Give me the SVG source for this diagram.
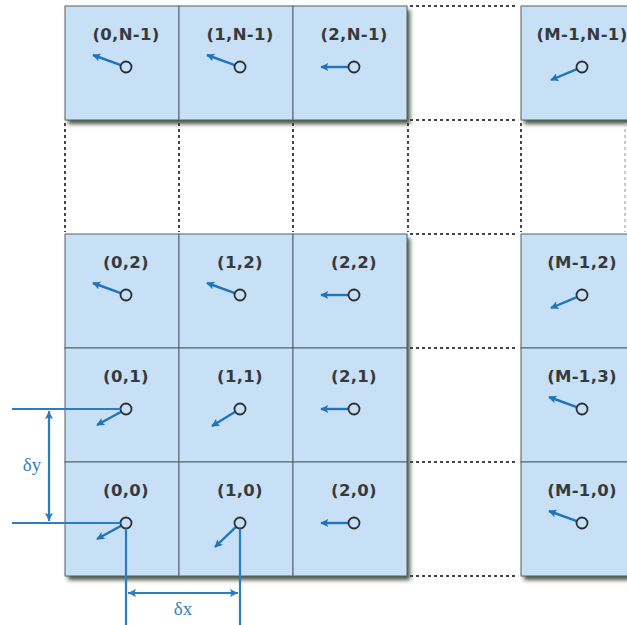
<svg xmlns="http://www.w3.org/2000/svg" width="627" height="625" viewBox="0 0 627 625">
<defs>
<filter id="sh" x="-10%" y="-10%" width="130%" height="130%">
<feDropShadow dx="3" dy="4" stdDeviation="2.2" flood-color="#36402c" flood-opacity="0.9"/>
</filter>
<marker id="ah" viewBox="0 0 10 10" refX="9" refY="5" markerUnits="userSpaceOnUse" markerWidth="11" markerHeight="8" orient="auto">
<path d="M0,0 L10,5 L0,10 L2,5 z" fill="#1f74bb"/>
</marker>
<marker id="dh" viewBox="0 0 10 10" refX="10" refY="5" markerUnits="userSpaceOnUse" markerWidth="11" markerHeight="8" orient="auto-start-reverse">
<path d="M0,0 L10,5 L0,10 L2,5 z" fill="#2a7dc4"/>
</marker>
</defs>
<style>
.cell{fill:#c7e0f5;stroke:#55616b;stroke-width:1}
.lbl{font-family:"DejaVu Sans","Liberation Sans",sans-serif;font-weight:bold;font-size:16.5px;fill:#363a3e;text-anchor:middle;letter-spacing:0.3px}
.pt{fill:none;stroke:#2a2f33;stroke-width:1.8}
.vec{stroke:#1f74bb;stroke-width:2.4;marker-end:url(#ah)}
.dot{stroke:#444;stroke-width:2;stroke-dasharray:3 3;fill:none}
.dim{stroke:#2a7dc4;stroke-width:2.2;fill:none}
.dimt{font-family:"Liberation Serif","DejaVu Serif",serif;font-size:19px;fill:#3a80c0;text-anchor:middle}
</style>
<rect width="627" height="625" fill="#fff"/>
<g id="shadows" filter="url(#sh)">
<rect x="65" y="6" width="342" height="114" fill="#c7e0f5"/>
<rect x="521" y="6" width="130" height="114" fill="#c7e0f5"/>
<rect x="65" y="234" width="342" height="342" fill="#c7e0f5"/>
<rect x="521" y="234" width="130" height="342" fill="#c7e0f5"/>
</g>
<g id="dotted">
<path class="dot" d="M410,6 H518 M410,120 H518 M410,234 H518 M410,348 H518 M410,462 H518 M410,576 H518"/>
<path class="dot" d="M65,123 V232 M179,123 V232 M293,123 V232 M408,123 V232 M521,123 V232"/>
<path d="M625,123 V232" stroke="#bbb" stroke-width="1.5" stroke-dasharray="3 3"/>
</g>
<g id="cell-0-Nm1" transform="translate(65,6)"><rect class="cell" width="114" height="114"/><text class="lbl" x="61" y="34">(0,N-1)</text><line class="vec" x1="55.8" y1="59.1" x2="28" y2="49"/><circle class="pt" cx="61" cy="61" r="5.5"/></g>
<g id="cell-1-Nm1" transform="translate(179,6)"><rect class="cell" width="114" height="114"/><text class="lbl" x="61" y="34">(1,N-1)</text><line class="vec" x1="55.8" y1="59.1" x2="28" y2="49"/><circle class="pt" cx="61" cy="61" r="5.5"/></g>
<g id="cell-2-Nm1" transform="translate(293,6)"><rect class="cell" width="114" height="114"/><text class="lbl" x="61" y="34">(2,N-1)</text><line class="vec" x1="55.5" y1="61" x2="28" y2="61"/><circle class="pt" cx="61" cy="61" r="5.5"/></g>
<g id="cell-Mm1-Nm1" transform="translate(521,6)"><rect class="cell" width="130" height="114"/><text class="lbl" x="61" y="34">(M-1,N-1)</text><line class="vec" x1="55.9" y1="63.1" x2="30" y2="74"/><circle class="pt" cx="61" cy="61" r="5.5"/></g>

<g id="cell-0-2" transform="translate(65,234)"><rect class="cell" width="114" height="114"/><text class="lbl" x="61" y="34">(0,2)</text><line class="vec" x1="55.8" y1="59.1" x2="28" y2="49"/><circle class="pt" cx="61" cy="61" r="5.5"/></g>
<g id="cell-1-2" transform="translate(179,234)"><rect class="cell" width="114" height="114"/><text class="lbl" x="61" y="34">(1,2)</text><line class="vec" x1="55.8" y1="59.1" x2="28" y2="49"/><circle class="pt" cx="61" cy="61" r="5.5"/></g>
<g id="cell-2-2" transform="translate(293,234)"><rect class="cell" width="114" height="114"/><text class="lbl" x="61" y="34">(2,2)</text><line class="vec" x1="55.5" y1="61" x2="28" y2="61"/><circle class="pt" cx="61" cy="61" r="5.5"/></g>
<g id="cell-Mm1-2" transform="translate(521,234)"><rect class="cell" width="130" height="114"/><text class="lbl" x="61" y="34">(M-1,2)</text><line class="vec" x1="55.9" y1="63.1" x2="30" y2="74"/><circle class="pt" cx="61" cy="61" r="5.5"/></g>

<g id="cell-0-1" transform="translate(65,348)"><rect class="cell" width="114" height="114"/><text class="lbl" x="61" y="34">(0,1)</text><line class="vec" x1="56.2" y1="63.7" x2="32" y2="77"/><circle class="pt" cx="61" cy="61" r="5.5"/></g>
<g id="cell-1-1" transform="translate(179,348)"><rect class="cell" width="114" height="114"/><text class="lbl" x="61" y="34">(1,1)</text><line class="vec" x1="56.3" y1="63.8" x2="33" y2="78"/><circle class="pt" cx="61" cy="61" r="5.5"/></g>
<g id="cell-2-1" transform="translate(293,348)"><rect class="cell" width="114" height="114"/><text class="lbl" x="61" y="34">(2,1)</text><line class="vec" x1="55.5" y1="61" x2="28" y2="61"/><circle class="pt" cx="61" cy="61" r="5.5"/></g>
<g id="cell-Mm1-3" transform="translate(521,348)"><rect class="cell" width="130" height="114"/><text class="lbl" x="61" y="34">(M-1,3)</text><line class="vec" x1="55.8" y1="59.1" x2="28" y2="49"/><circle class="pt" cx="61" cy="61" r="5.5"/></g>

<g id="cell-0-0" transform="translate(65,462)"><rect class="cell" width="114" height="114"/><text class="lbl" x="61" y="34">(0,0)</text><line class="vec" x1="56.2" y1="63.7" x2="32" y2="77"/><circle class="pt" cx="61" cy="61" r="5.5"/></g>
<g id="cell-1-0" transform="translate(179,462)"><rect class="cell" width="114" height="114"/><text class="lbl" x="61" y="34">(1,0)</text><line class="vec" x1="57" y1="64.8" x2="36" y2="85"/><circle class="pt" cx="61" cy="61" r="5.5"/></g>
<g id="cell-2-0" transform="translate(293,462)"><rect class="cell" width="114" height="114"/><text class="lbl" x="61" y="34">(2,0)</text><line class="vec" x1="55.5" y1="61" x2="28" y2="61"/><circle class="pt" cx="61" cy="61" r="5.5"/></g>
<g id="cell-Mm1-0" transform="translate(521,462)"><rect class="cell" width="130" height="114"/><text class="lbl" x="61" y="34">(M-1,0)</text><line class="vec" x1="55.8" y1="59.1" x2="28" y2="49"/><circle class="pt" cx="61" cy="61" r="5.5"/></g>

<g id="connectors">
<path class="dim" d="M12,409 H120.5 M12,523 H120.5 M126,528.5 V625 M240,528.5 V625"/>
<line class="dim" x1="49" y1="411" x2="49" y2="521" marker-start="url(#dh)" marker-end="url(#dh)"/>
<line class="dim" x1="128" y1="593" x2="238" y2="593" marker-start="url(#dh)" marker-end="url(#dh)"/>
<text class="dimt" x="32" y="471">δy</text>
<text class="dimt" x="183" y="615">δx</text>
</g>
</svg>
